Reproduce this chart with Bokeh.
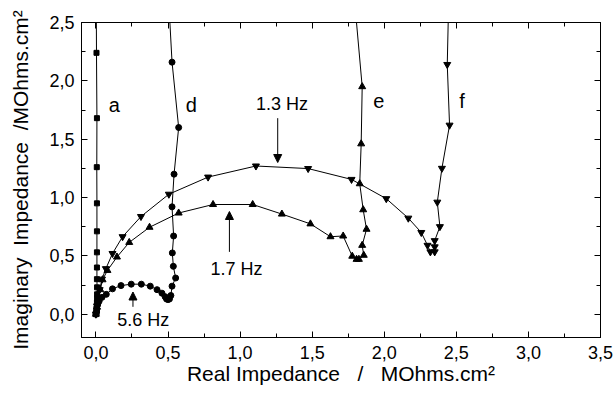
from bokeh.plotting import figure
from bokeh.models import (Range1d, LinearAxis, SingleIntervalTicker, CustomJSTickFormatter,
                          Arrow, NormalHead, Label)
from bokeh.embed import file_html
from bokeh.resources import INLINE

# ---- data (MOhms.cm^2) ----
a_x = [0.0, 0.004, 0.006, 0.005, 0.006, 0.007, 0.008, 0.008, 0.008, 0.007, 0.007, 0.007, 0.007, 0.007, 0.006, 0.007, 0.004]
a_y = [0.0, 0.01, 0.03, 0.05, 0.07, 0.10, 0.13, 0.17, 0.23, 0.30, 0.40, 0.53, 0.71, 0.95, 1.26, 1.68, 2.24]
a_top = [0.002, 2.8]

d_x = [0.0, 0.003, 0.006, 0.012, 0.022, 0.042, 0.072, 0.115, 0.174, 0.245, 0.315, 0.377, 0.424, 0.458,
       0.48, 0.49, 0.50, 0.51, 0.52, 0.528, 0.553, 0.537, 0.53, 0.539, 0.528, 0.542, 0.574, 0.528]
d_y = [0.0, 0.02, 0.05, 0.08, 0.11, 0.144, 0.17, 0.217, 0.245, 0.257, 0.257, 0.24, 0.21, 0.18,
       0.15, 0.13, 0.125, 0.13, 0.16, 0.24, 0.31, 0.41, 0.525, 0.67, 0.92, 1.20, 1.60, 2.16]
d_top = [0.50, 2.8]

e_x = [0.0, 0.008, 0.018, 0.030, 0.046, 0.08, 0.146, 0.231, 0.372, 0.574, 0.8125, 1.0875, 1.29, 1.488,
       1.627, 1.715, 1.778, 1.808, 1.824, 1.858, 1.847, 1.877, 1.854, 1.83, 1.84, 1.847]
e_y = [0.0, 0.06, 0.13, 0.21, 0.295, 0.375, 0.49, 0.615, 0.745, 0.867, 0.94, 0.94, 0.858, 0.774,
       0.664, 0.67, 0.497, 0.47, 0.47, 0.505, 0.59, 0.728, 0.895, 1.118, 1.46, 1.95]
e_top = [1.786, 2.8]

f_x = [0.0, 0.008, 0.016, 0.026, 0.042, 0.069, 0.115, 0.185, 0.3125, 0.506, 0.778, 1.11, 1.472, 1.773,
       2.014, 2.167, 2.257, 2.30, 2.32, 2.35, 2.35, 2.35, 2.386, 2.368, 2.40, 2.453, 2.437]
f_y = [0.0, 0.07, 0.14, 0.21, 0.30, 0.39, 0.52, 0.664, 0.837, 1.028, 1.175, 1.27, 1.248, 1.155,
       0.99, 0.823, 0.70, 0.59, 0.534, 0.534, 0.577, 0.63, 0.75, 0.96, 1.25, 1.62, 2.14]
f_top = [2.449, 2.8]

curve_labels = ["a", "d", "e", "f"]

FONT = "Liberation Sans"
SP = "\u00a0"

W, H = 614, 393
p = figure(width=W, height=H, output_backend="svg", toolbar_location=None,
           x_range=Range1d(-0.1, 3.5), y_range=Range1d(-0.2, 2.5),
           min_border_left=81, min_border_right=14, min_border_top=22, min_border_bottom=56)
p.grid.visible = False
p.outline_line_color = "black"
p.outline_line_width = 1

fmt = CustomJSTickFormatter(code="return tick.toFixed(1).replace('.', ',');")

def style_axis(ax, show_labels=True):
    ax.ticker = SingleIntervalTicker(interval=0.5, num_minor_ticks=2)
    ax.formatter = fmt
    ax.major_tick_in = 6
    ax.major_tick_out = 0
    ax.minor_tick_in = 4
    ax.minor_tick_out = 0
    ax.axis_line_color = "black"
    ax.major_tick_line_color = "black"
    ax.minor_tick_line_color = "black"
    ax.major_label_text_font = FONT
    ax.major_label_text_font_size = "18px"
    ax.major_label_text_color = "black" if show_labels else None
    ax.axis_label_text_font = FONT
    ax.axis_label_text_font_size = "21px"
    ax.axis_label_text_font_style = "normal"
    ax.axis_label_text_color = "black"

style_axis(p.xaxis[0])
style_axis(p.yaxis[0])
p.xaxis[0].axis_label = "Real Impedance" + SP * 3 + "/" + SP * 3 + "MOhms.cm²"
p.yaxis[0].axis_label = "Imaginary" + SP * 2 + "Impedance" + SP * 2 + "/MOhms.cm²"
p.xaxis[0].major_label_standoff = 8
p.yaxis[0].major_label_standoff = 7
p.xaxis[0].axis_label_standoff = 0
p.yaxis[0].axis_label_standoff = 14

top = LinearAxis()
right = LinearAxis()
style_axis(top, False)
style_axis(right, False)
top.major_label_text_font_size = "0px"
right.major_label_text_font_size = "0px"
top.major_label_standoff = 0
right.major_label_standoff = 0
p.add_layout(top, "above")
p.add_layout(right, "right")

lw = 1
for xs, ys, tx, ty in [(a_x, a_y, a_top[0], a_top[1]), (d_x, d_y, d_top[0], d_top[1]),
                       (e_x, e_y, e_top[0], e_top[1]), (f_x, f_y, f_top[0], f_top[1])]:
    p.line(xs + [tx], ys + [ty], line_color="black", line_width=lw)

p.scatter(a_x, a_y, marker="square", size=5, color="black")
p.scatter(d_x, d_y, marker="circle", size=6, color="black")
p.scatter(e_x, e_y, marker="triangle", size=7, color="black")
p.scatter(f_x, f_y, marker="inverted_triangle", size=7, color="black")

# curve letters
for txt, lx, ly in zip(curve_labels, [0.127, 0.662, 1.963, 2.54], [1.79, 1.79, 1.83, 1.83]):
    p.add_layout(Label(x=lx, y=ly, text=txt, text_font=FONT, text_font_size="20px",
                       text_align="center", text_baseline="middle", text_color="black"))

# frequency annotations
for (xs_, ys_, xe_, ye_, txt, tx, ty) in [
        (0.257, 0.063, 0.257, 0.19, "5.6 Hz", 0.328, -0.05),
        (1.261, 1.68, 1.261, 1.30, "1.3 Hz", 1.29, 1.805),
        (0.926, 0.534, 0.926, 0.88, "1.7 Hz", 0.975, 0.39)]:
    p.add_layout(Arrow(x_start=xs_, y_start=ys_, x_end=xe_, y_end=ye_, line_color="black",
                       line_width=1, end=NormalHead(size=8, fill_color="black", line_color="black")))
    p.add_layout(Label(x=tx, y=ty, text=txt, text_font=FONT, text_font_size="18px",
                       text_align="center", text_baseline="middle", text_color="black"))

open("out.html", "w").write(file_html(p, INLINE))
